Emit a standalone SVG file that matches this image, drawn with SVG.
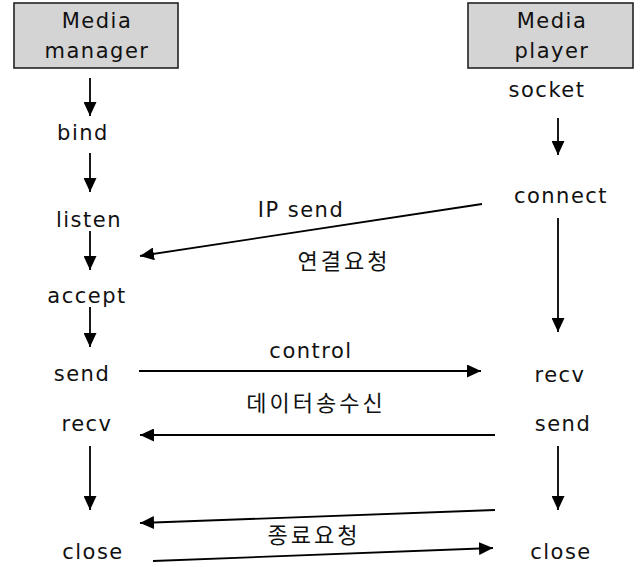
<svg xmlns="http://www.w3.org/2000/svg" width="640" height="567" viewBox="0 0 640 567">
<style>
.bg{fill:#ffffff}
.box{fill:#d4d4d4;stroke:#222;stroke-width:1.6}
.t{font-family:"DejaVu Sans","Liberation Sans",sans-serif;font-size:21px;letter-spacing:1.5px;fill:#111;text-anchor:middle}
.k{font-family:"Noto Sans CJK KR","Noto Sans",sans-serif;font-size:22px;letter-spacing:3px;fill:#111;text-anchor:middle}
.c{stroke:#000;stroke-width:1.8;fill:none;marker-end:url(#ah)}
</style>
<defs>
<marker id="ah" markerUnits="userSpaceOnUse" markerWidth="15" markerHeight="13" refX="14" refY="6.5" orient="auto" viewBox="0 0 15 13">
<path d="M0,0 L14,6.5 L0,13 z" fill="#000"/>
</marker>
</defs>
<rect class="bg" x="0" y="0" width="640" height="567"/>
<g id="media-manager">
<rect class="box" x="14" y="3" width="164" height="65"/>
<text class="t" x="97" y="28">Media</text>
<text class="t" x="97" y="58">manager</text>
</g>
<g id="media-player">
<rect class="box" x="468" y="3" width="165" height="65"/>
<text class="t" x="552" y="28">Media</text>
<text class="t" x="552" y="58">player</text>
</g>
<g id="bind"><text class="t" x="83" y="140">bind</text></g>
<g id="listen"><text class="t" x="89" y="227">listen</text></g>
<g id="accept"><text class="t" x="87" y="303">accept</text></g>
<g id="send-left"><text class="t" x="82" y="381">send</text></g>
<g id="recv-left"><text class="t" x="87" y="431">recv</text></g>
<g id="close-left"><text class="t" x="93" y="559">close</text></g>
<g id="socket"><text class="t" x="547" y="97">socket</text></g>
<g id="connect"><text class="t" x="561" y="203">connect</text></g>
<g id="recv-right"><text class="t" x="560" y="382">recv</text></g>
<g id="send-right"><text class="t" x="563" y="431">send</text></g>
<g id="close-right"><text class="t" x="561" y="559">close</text></g>
<g id="connectors">
<line class="c" x1="90" y1="78" x2="90" y2="116"/>
<line class="c" x1="90" y1="153" x2="90" y2="192"/>
<line class="c" x1="90" y1="231" x2="90" y2="270"/>
<line class="c" x1="90" y1="307" x2="90" y2="347"/>
<line class="c" x1="90" y1="446" x2="90" y2="510"/>
<line class="c" x1="558" y1="118" x2="558" y2="155"/>
<line class="c" x1="558" y1="218" x2="558" y2="332"/>
<line class="c" x1="558" y1="446" x2="558" y2="510"/>
<line class="c" x1="482" y1="204" x2="140" y2="256"/>
<line class="c" x1="139" y1="371" x2="481" y2="371"/>
<line class="c" x1="495" y1="435" x2="140" y2="435"/>
<line class="c" x1="495" y1="510" x2="140" y2="523"/>
<line class="c" x1="153" y1="561" x2="493" y2="548"/>
<text class="t" x="301" y="217">IP send</text>
<text class="k" x="344" y="269">연결요청</text>
<text class="k" x="316" y="411">데이터송수신</text>
<text class="t" x="311" y="358">control</text>
<text class="k" x="314" y="543">종료요청</text>
</g>
</svg>
